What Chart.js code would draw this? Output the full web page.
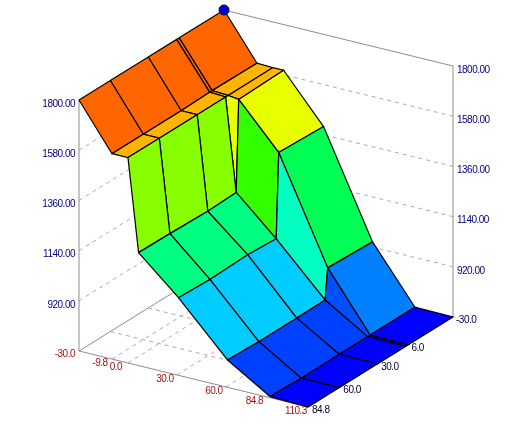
<!DOCTYPE html>
<html>
<head>
<meta charset="utf-8">
<title>Surface</title>
<script src="https://cdn.jsdelivr.net/npm/chart.js@4/dist/chart.umd.min.js"></script>
<style>
    html, body { margin: 0; padding: 0; background: #fff; }
    canvas { display: block; }
</style>
</head>
<body>
<canvas id="surface" width="526" height="441"></canvas>
<script>
// Data
const xGrid = [-30, -9.8, 0, 6.5, 31, 61, 87, 110.3];
const yGrid = [84.8, 60, 30, 7.5, 5.5, -30];
const zRow848 = [1800, 1600, 1600, 1195, 1040, 820, 705, 700];
const zRow60 = [1800, 1600, 1600, 1193, 1035, 815, 700, 700];
const zRow30 = [1800, 1600, 1600, 1188, 1040, 815, 702, 700];
const zRow75 = [1800, 1604, 1600, 1193, 1033, 817, 702, 700];
const zRow55 = [1800, 1604, 1600, 1594, 1404, 951, 702, 700];
const zRowBack = [1800, 1602, 1600, 1600, 1396, 943, 702, 700];
const zRows = [zRow848, zRow60, zRow30, zRow75, zRow55, zRowBack];

const xTicks = [-9.8, 0, 30, 60, 84.8, 110.3];
const yTicks = [6, 30, 60, 84.8];
const zTicks = [920, 1140, 1360, 1580, 1800];

// colour bands, keyed by the mean height of a cell
const bandFloors = [1650, 1550, 1450, 1350, 1250, 1150, 1085, 1000, 880, 810, 775, 720, 0];
const bandColors = ['#FF6600', '#FFB400', '#E8FF00', '#88FF00', '#33FF00', '#00FF55', '#00FF80',
    '#00FFC0', '#00CCFF', '#0080FF', '#0050FF', '#0040FF', '#0000FF'];

const xMin = -30, xMax = 110.3, yMin = -30, yMax = 84.8, zMin = 700, zMax = 1800;

// Parallel projection of the 3D box onto the flat scatter scales
function project(x, y, z) {
    const fx = (x - xMin) / (xMax - xMin);
    const fy = (yMax - y) / (yMax - yMin);
    const fz = (z - zMin) / (zMax - zMin);
    return { x: 79 + fx * 229 + fy * 145, y: 351 + fx * 56 - fy * 90 - fz * 251 };
}

function bandColor(z) {
    const i = bandFloors.findIndex(f => z >= f);
    return bandColors[i];
}

function segment(a, b, color, dash) {
    return {
        data: [project(a[0], a[1], a[2]), project(b[0], b[1], b[2])],
        showLine: true,
        fill: false,
        borderColor: color,
        borderWidth: 1,
        borderDash: dash || [],
        pointRadius: 0
    };
}

// built back to front, reversed at the end because Chart.js paints the first dataset last
const sets = [];
const gray = '#8c8c8c', dashGray = '#ababab', dash = [4, 4];

zTicks.slice(0, -1).forEach(z => {
    sets.push(segment([xMin, yMax, z], [xMin, yMin, z], dashGray, dash));
    sets.push(segment([xMin, yMin, z], [xMax, yMin, z], dashGray, dash));
});
xTicks.slice(0, -1).forEach(x => {
    sets.push(segment([x, yMax, zMin], [x, yMin, zMin], dashGray, dash));
});
yTicks.slice(0, -1).forEach(y => {
    sets.push(segment([xMin, y, zMin], [xMax, y, zMin], dashGray, dash));
});
sets.push(segment([xMin, yMax, zMin], [xMin, yMax, zMax], gray));
sets.push(segment([xMin, yMax, zMin], [xMin, yMin, zMin], gray));
sets.push(segment([xMin, yMax, zMin], [xMax, yMax, zMin], gray));
sets.push(segment([xMax, yMin, zMin], [xMax, yMin, zMax], gray));
sets.push(segment([xMin, yMin, zMax], [xMax, yMin, zMax], gray));

for (let i = 0; i < xGrid.length - 1; i++) {
    for (let j = yGrid.length - 2; j >= 0; j--) {
        const corners = [[i, j], [i + 1, j], [i + 1, j + 1], [i, j + 1], [i, j]];
        const mean = (zRows[j][i] + zRows[j][i + 1] + zRows[j + 1][i] + zRows[j + 1][i + 1]) / 4;
        sets.push({
            data: corners.map(c => project(xGrid[c[0]], yGrid[c[1]], zRows[c[1]][c[0]])),
            showLine: true,
            fill: 'shape',
            tension: 0,
            backgroundColor: bandColor(mean),
            borderColor: '#000',
            borderWidth: 1.2,
            pointRadius: 0
        });
    }
}

// blue ball on the top back corner
sets.push({
    data: [project(xMin, yMin, zMax)],
    pointRadius: 5,
    pointBackgroundColor: '#0000CC',
    pointBorderColor: '#000050',
    pointBorderWidth: 1
});

// Tick labels
const tickLabels = {
    id: 'tickLabels',
    afterDraw(chart) {
        const ctx = chart.ctx;
        const sx = chart.scales.x, sy = chart.scales.y;
        function put(text, x, y, z, dx, dy, color, align) {
            const p = project(x, y, z);
            ctx.fillStyle = color;
            ctx.textAlign = align;
            ctx.textBaseline = 'middle';
            ctx.fillText(text, sx.getPixelForValue(p.x) + dx, sy.getPixelForValue(p.y) + dy);
        }
        ctx.save();
        ctx.font = '10px "Liberation Sans", sans-serif';
        ctx.letterSpacing = '-0.5px';
        zTicks.forEach(z => {
            put(z.toFixed(2), xMin, yMax, z, -4, 4, '#000080', 'right');
            put(z.toFixed(2), xMin, yMin, z, 233, 60, '#000080', 'left');
        });
        put('-30.0', xMin, yMax, zMin, -4, 3, '#A01414', 'right');
        put('-30.0', xMax, yMin, zMin, 3, 3, '#000050', 'left');
        xTicks.forEach(x => {
            put(x.toFixed(1), x, yMax, zMin, -12, 4, '#A01414', 'center');
        });
        yTicks.forEach(y => {
            put(y.toFixed(1), xMax, y, zMin, 4, 3, '#000030', 'left');
        });
        ctx.restore();
    }
};

new Chart(document.getElementById('surface'), {
    type: 'scatter',
    data: { datasets: sets.reverse() },
    options: {
        responsive: false,
        animation: false,
        events: [],
        layout: { padding: 0, autoPadding: false },
        elements: { line: { tension: 0 } },
        scales: {
            x: { type: 'linear', display: false, min: 0, max: 526 },
            y: { type: 'linear', display: false, min: 0, max: 441, reverse: true }
        },
        plugins: { legend: { display: false }, tooltip: { enabled: false } }
    },
    plugins: [tickLabels]
});
</script>
</body>
</html>
